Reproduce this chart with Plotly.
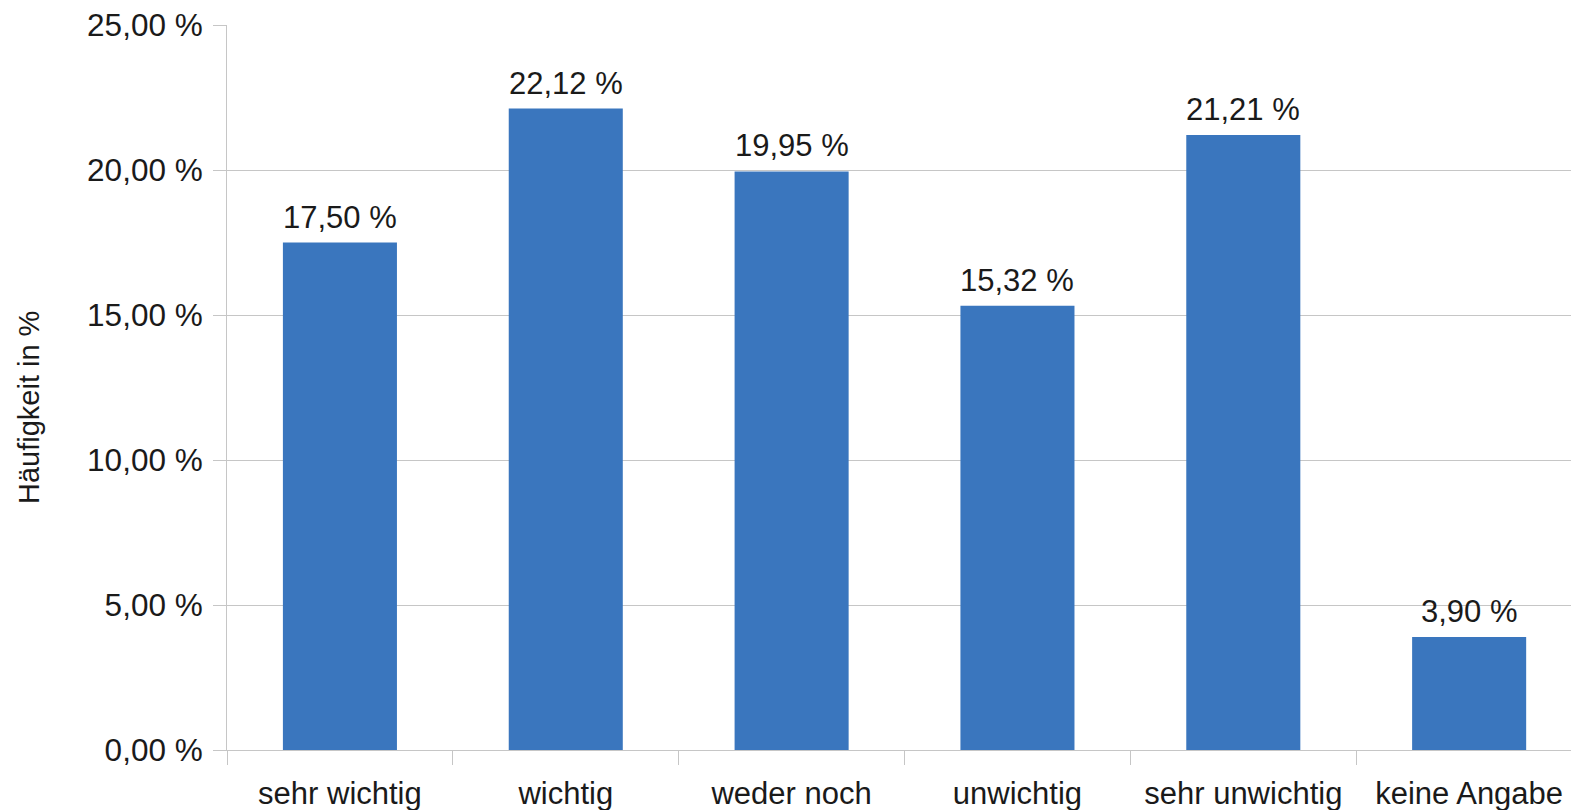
import plotly.graph_objects as go

# Antwortkategorien und relative Häufigkeiten
kategorien = ["sehr wichtig", "wichtig", "weder noch", "unwichtig", "sehr unwichtig", "keine Angabe"]
haeufigkeit = [17.50, 22.12, 19.95, 15.32, 21.21, 3.90]
y_ticks = [0, 5, 10, 15, 20, 25]

def de_prozent(v):
    return f"{v:.2f}".replace(".", ",") + " %"

beschriftung = [de_prozent(v) for v in haeufigkeit]
y_tick_text = [de_prozent(v) for v in y_ticks]

FONT = "Liberation Sans, Arial, sans-serif"
GRID = "#c6c6c6"
TEXT = "#1a1a1a"

fig = go.Figure(
    go.Bar(
        x=kategorien,
        y=haeufigkeit,
        marker=dict(color="#3a76be", line=dict(width=0)),
        width=0.505,
        hoverinfo="skip",
    )
)

# Wertebeschriftungen über den Balken
for kat, wert, txt in zip(kategorien, haeufigkeit, beschriftung):
    fig.add_annotation(
        x=kat, y=wert, xref="x", yref="y",
        text=txt, showarrow=False,
        yanchor="bottom", yshift=6,
        font=dict(family=FONT, size=31, color=TEXT),
    )

# Achsentitel
fig.add_annotation(
    x=0, y=0.4717, xref="paper", yref="paper",
    xanchor="center", yanchor="middle", xshift=-198,
    text="Häufigkeit in %", textangle=-90, showarrow=False,
    font=dict(family=FONT, size=29, color=TEXT),
)

fig.update_layout(
    width=1571,
    height=810,
    margin=dict(l=227, r=0, t=25, b=60),
    paper_bgcolor="white",
    plot_bgcolor="white",
    showlegend=False,
    font=dict(family=FONT, size=31, color=TEXT),
)

fig.update_xaxes(
    type="category",
    range=[-0.5, 5.451],
    showgrid=False,
    showline=True,
    linecolor=GRID,
    linewidth=1,
    ticks="outside",
    tickson="boundaries",
    ticklen=14,
    tickcolor=GRID,
    ticklabelstandoff=16,
    tickfont=dict(family=FONT, size=31, color=TEXT),
    fixedrange=True,
)

fig.update_yaxes(
    range=[0, 25],
    tickvals=y_ticks,
    ticktext=y_tick_text,
    showgrid=True,
    gridcolor=GRID,
    gridwidth=1,
    showline=True,
    linecolor=GRID,
    linewidth=1,
    ticks="outside",
    ticklen=13,
    tickcolor=GRID,
    ticklabelstandoff=4,
    tickfont=dict(family=FONT, size=31.5, color=TEXT),
    zeroline=False,
    fixedrange=True,
)

fig.write_html("out.html")
